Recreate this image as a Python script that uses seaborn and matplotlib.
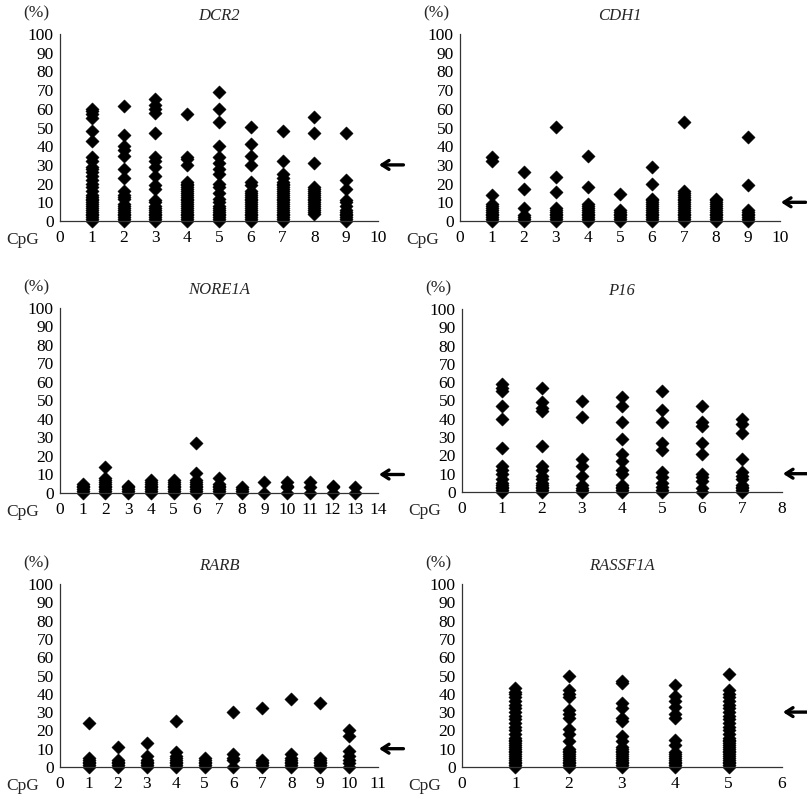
import matplotlib
matplotlib.use("Agg")
import matplotlib.pyplot as plt
import seaborn as sns
import pandas as pd

# ---------------- data ----------------
genes = ["DCR2", "CDH1", "NORE1A", "P16", "RARB", "RASSF1A"]
x_max = [10, 10, 14, 8, 11, 6]
cutoff = [30, 10, 10, 10, 10, 30]

dcr2 = [
    [0, 1, 2, 3, 4, 5, 6, 7, 8, 9, 10, 11, 12, 13, 14, 16, 18, 20, 22, 24, 26, 28, 29, 32, 34, 43, 48, 55, 57, 59, 60],
    [0, 1, 2, 3, 4, 5, 6, 7, 8, 9, 12, 13, 14, 16, 23, 28, 35, 38, 40, 46, 61.5],
    [0, 1, 2, 3, 4, 5, 6, 7, 8, 10, 11, 17, 19, 24, 29, 32, 34, 47, 58, 60, 62, 65],
    [0, 1, 2, 3, 4, 5, 6, 7, 8, 9, 10, 11, 12, 13, 14, 15, 16, 17, 18, 19, 20, 21, 30, 33, 34, 57],
    [0, 1, 2, 3, 4, 5, 6, 7, 8, 10, 12, 15, 18, 20, 25, 28, 31, 34, 40, 53, 60, 69],
    [0, 1, 2, 3, 4, 5, 6, 7, 8, 9, 10, 11, 12, 13, 14, 15, 16, 19, 21, 30, 35, 41, 50.5],
    [0, 1, 2, 3, 4, 5, 6, 7, 8, 9, 10, 11, 12, 13, 14, 15, 16, 17, 18, 19, 20, 21, 23, 25, 32, 48],
    [4, 5, 6, 7, 8, 9, 10, 11, 12, 13, 14, 15, 16, 17, 18, 31, 47, 55.5],
    [0, 1, 2, 3, 4, 5, 6, 8, 10, 11, 17, 22, 47],
]
cdh1 = [
    [0, 1, 2, 3, 4, 5, 6, 7, 8, 9, 14, 32, 34],
    [0, 1, 2, 3, 7, 17, 26],
    [0, 1, 2, 3, 4, 5, 6, 7, 15.5, 23.5, 50.5],
    [0, 1, 2, 3, 4, 5, 6, 7, 8, 9, 18, 35],
    [0, 1, 2, 3, 4, 5, 6, 14.5],
    [0, 1, 2, 3, 4, 5, 6, 7, 8, 9, 10, 11, 12, 20, 29],
    [0, 1, 2, 3, 4, 5, 6, 7, 8, 9, 10, 11, 12, 13, 14, 15, 16, 53],
    [0, 1, 2, 3, 4, 5, 6, 7, 8, 9, 10, 11, 12],
    [0, 1, 2, 3, 4, 5, 6, 19, 45],
]
nore1a = [
    [0, 1, 2, 3, 4, 5],
    [0, 1, 2, 3, 4, 5, 6, 7, 8, 14],
    [0, 1, 2, 3, 4],
    [0, 1, 2, 3, 4, 5, 6, 7],
    [0, 1, 2, 3, 4, 5, 6, 7],
    [0, 1, 2, 3, 4, 5, 6, 7, 11, 27],
    [0, 1, 2, 3, 4, 5, 8],
    [0, 1, 2, 3],
    [0, 6],
    [0, 3, 4, 6],
    [0, 3, 6],
    [0, 3, 4],
    [0, 3],
]
p16 = [
    [0, 1, 2, 3, 4, 5, 7, 10, 12, 14, 24, 40, 47, 55, 57, 59],
    [0, 1, 2, 3, 4, 5, 7, 9, 12, 14, 25, 44, 46, 49, 57],
    [0, 1, 2, 4, 9, 14, 18, 41, 50],
    [0, 1, 2, 3, 4, 10, 12, 17, 21, 29, 38, 47, 52],
    [0, 1, 3, 5, 8, 11, 23, 27, 38, 45, 55],
    [0, 2, 6, 8, 10, 21, 27, 36, 38, 47],
    [0, 1, 2, 3, 4, 7, 9, 11, 18, 32, 37, 40],
]
rarb = [
    [0, 1, 2, 3, 4, 5, 24],
    [0, 1, 2, 3, 4, 11],
    [0, 1, 2, 3, 4, 6, 13],
    [0, 1, 2, 3, 4, 5, 6, 8, 25],
    [0, 1, 2, 3, 4, 5],
    [0, 4, 5, 7, 30],
    [0, 1, 2, 3, 4, 32],
    [0, 1, 2, 3, 4, 5, 7, 37],
    [0, 1, 2, 3, 4, 5, 35],
    [0, 2, 4, 6, 9, 17, 20],
]
rassf1a = [
    [0, 1, 2, 3, 4, 5, 6, 7, 8, 9, 10, 11, 12, 13, 14, 15, 16, 18, 20, 22, 24, 26, 28, 30, 32, 34, 36, 38, 40, 41, 43],
    [0, 1, 2, 3, 4, 5, 6, 7, 8, 9, 10, 14, 18, 21, 27, 29, 31, 38, 40, 42, 50],
    [0, 1, 2, 3, 4, 5, 6, 7, 8, 9, 10, 11, 14, 17, 25, 27, 32, 35, 46, 47],
    [0, 1, 2, 3, 4, 5, 6, 7, 8, 12, 15, 27, 29, 33, 36, 39, 45],
    [0, 1, 2, 3, 4, 5, 6, 7, 8, 9, 10, 11, 12, 13, 14, 15, 16, 18, 20, 22, 24, 26, 28, 30, 32, 34, 36, 38, 40, 42, 51],
]
panel_data = [dcr2, cdh1, nore1a, p16, rarb, rassf1a]

# ---------------- style ----------------
sns.set_style("white")
plt.rcParams["font.family"] = ["Liberation Serif", "DejaVu Serif"]
plt.rcParams["axes.unicode_minus"] = False

W, H = 807, 802
fig = plt.figure(figsize=(W / 100, H / 100), dpi=100)

# axes boxes in pixels: (left, top, right, bottom)
boxes = [
    (60, 34, 378, 221), (460, 34, 780, 221),
    (60, 308, 378, 493), (462, 309, 782, 492),
    (60, 584, 378, 767), (462, 584, 782, 767),
]

FS = 12.5
for gene, xm, cut, cols, (l, t, r, b) in zip(genes, x_max, cutoff, panel_data, boxes):
    ax = fig.add_axes([l / W, 1 - b / H, (r - l) / W, (b - t) / H])
    rows = [(i + 1, v) for i, col in enumerate(cols) for v in col]
    df = pd.DataFrame(rows, columns=["CpG", "pct"])
    sns.scatterplot(data=df, x="CpG", y="pct", marker="D", s=46, color="black",
                    edgecolor="black", linewidth=0.3, ax=ax, clip_on=False, legend=False)
    ax.set_xlim(0, xm)
    ax.set_ylim(0, 100)
    ax.set_xticks(range(0, xm + 1))
    ax.set_yticks(range(0, 101, 10))
    ax.set_xlabel("")
    ax.set_ylabel("")
    for s in ["top", "right"]:
        ax.spines[s].set_visible(False)
    for s in ["left", "bottom"]:
        ax.spines[s].set_color("#333333")
        ax.spines[s].set_linewidth(0.9)
    ax.tick_params(axis="both", direction="out", length=3, width=0.9, color="#333333",
                   labelsize=FS, labelcolor="black")
    ax.tick_params(axis="y", pad=1.5)
    ax.tick_params(axis="x", pad=3.5)
    ax.set_title(gene, fontstyle="italic", fontsize=12, pad=10)
    ax.annotate("(%)", xy=(0, 1), xycoords="axes fraction", xytext=(-17, 15),
                textcoords="offset points", ha="center", va="center", fontsize=FS)
    ax.annotate("CpG", xy=(0, 0), xycoords="axes fraction", xytext=(-27, -14),
                textcoords="offset points", ha="center", va="center", fontsize=FS)
    ax.annotate("", xy=(1.003, cut), xycoords=("axes fraction", "data"),
                xytext=(1.08, cut), textcoords=("axes fraction", "data"),
                arrowprops=dict(arrowstyle="->,head_length=0.5,head_width=0.32",
                                lw=2.4, color="black", shrinkA=0, shrinkB=0),
                annotation_clip=False)

fig.savefig("out.png", dpi=100)
